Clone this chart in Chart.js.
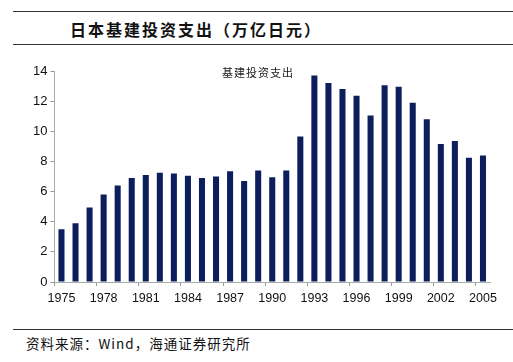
<!DOCTYPE html>
<html>
<head>
<meta charset="utf-8">
<script src="https://cdn.jsdelivr.net/npm/chart.js@4.4.0/dist/chart.umd.min.js"></script>
<style>
  body { margin: 0; background: #fff; width: 513px; height: 362px; position: relative; overflow: hidden; }
  .rule { position: absolute; left: 13px; right: 0; height: 0; border-top: 1.5px solid #333; }
  #titulo { position: absolute; left: 70px; top: 17px; font-family: "Noto Sans CJK SC"; font-weight: bold; font-size: 16px; letter-spacing: 2px; color: #111; }
  #leyenda { position: absolute; left: 222px; top: 64px; font-family: "Noto Sans CJK SC"; font-size: 11px; letter-spacing: 1px; color: #222; }
  #fuente { position: absolute; left: 26px; top: 333px; font-family: "Noto Sans CJK SC"; font-size: 13.5px; letter-spacing: 1px; color: #111; }
  #caja { position: absolute; left: 0; top: 50px; width: 513px; height: 261px; }
</style>
</head>
<body>
<div class="rule" style="top:11px"></div>
<div id="titulo">日本基建投资支出（万亿日元）</div>
<div class="rule" style="top:44px"></div>
<div id="caja"><canvas id="grafico"></canvas></div>
<div id="leyenda">基建投资支出</div>
<div class="rule" style="top:329px"></div>
<div id="fuente">资料来源：Wind，海通证券研究所</div>
<script>
// datos
const anios = ['1975','1976','1977','1978','1979','1980','1981','1982','1983','1984',
  '1985','1986','1987','1988','1989','1990','1991','1992','1993','1994',
  '1995','1996','1997','1998','1999','2000','2001','2002','2003','2004','2005'];
const inversion = [3.5, 3.9, 4.95, 5.8, 6.4, 6.9, 7.1, 7.25, 7.2, 7.05,
  6.9, 7.0, 7.35, 6.7, 7.4, 6.95, 7.4, 9.65, 13.7, 13.2,
  12.8, 12.35, 11.05, 13.05, 12.95, 11.9, 10.8, 9.15, 9.35, 8.25, 8.4];
const ticksY = [0, 2, 4, 6, 8, 10, 12, 14];

function crearGrafico() {
    const ctx = document.getElementById('grafico').getContext('2d');
    new Chart(ctx, {
        type: 'bar',
        data: {
            labels: anios,
            datasets: [{
                label: '基建投资支出',
                data: inversion,
                backgroundColor: '#0c1f5c',
                categoryPercentage: 1,
                barPercentage: 0.43
            }]
        },
        options: {
            responsive: true,
            maintainAspectRatio: false,
            animation: false,
            layout: { padding: { left: 30, right: 23, top: 21, bottom: 0 } },
            plugins: { legend: { display: false }, tooltip: { enabled: false } },
            scales: {
                x: {
                    offset: true,
                    grid: {
                        offset: true,
                        drawOnChartArea: false,
                        tickLength: 4,
                        color: (c) => (c.index % 3 === 0 ? '#999' : 'rgba(0,0,0,0)')
                    },
                    border: { color: '#aaa' },
                    ticks: {
                        autoSkip: false,
                        maxRotation: 0,
                        padding: 5,
                        color: '#111',
                        font: { family: 'Liberation Sans, Arial', size: 12.5 },
                        callback: (v, i) => (i % 3 === 0 ? anios[i] : '')
                    }
                },
                y: {
                    min: 0,
                    max: 14,
                    afterBuildTicks: (eje) => { eje.ticks = ticksY.map(v => ({ value: v })); },
                    grid: { drawOnChartArea: false, tickLength: 4, color: '#999' },
                    border: { color: '#aaa' },
                    ticks: {
                        padding: 3,
                        color: '#111',
                        font: { family: 'Liberation Sans, Arial', size: 13 }
                    }
                }
            }
        }
    });
}

document.addEventListener('DOMContentLoaded', function() {
    crearGrafico();
});
</script>
</body>
</html>
